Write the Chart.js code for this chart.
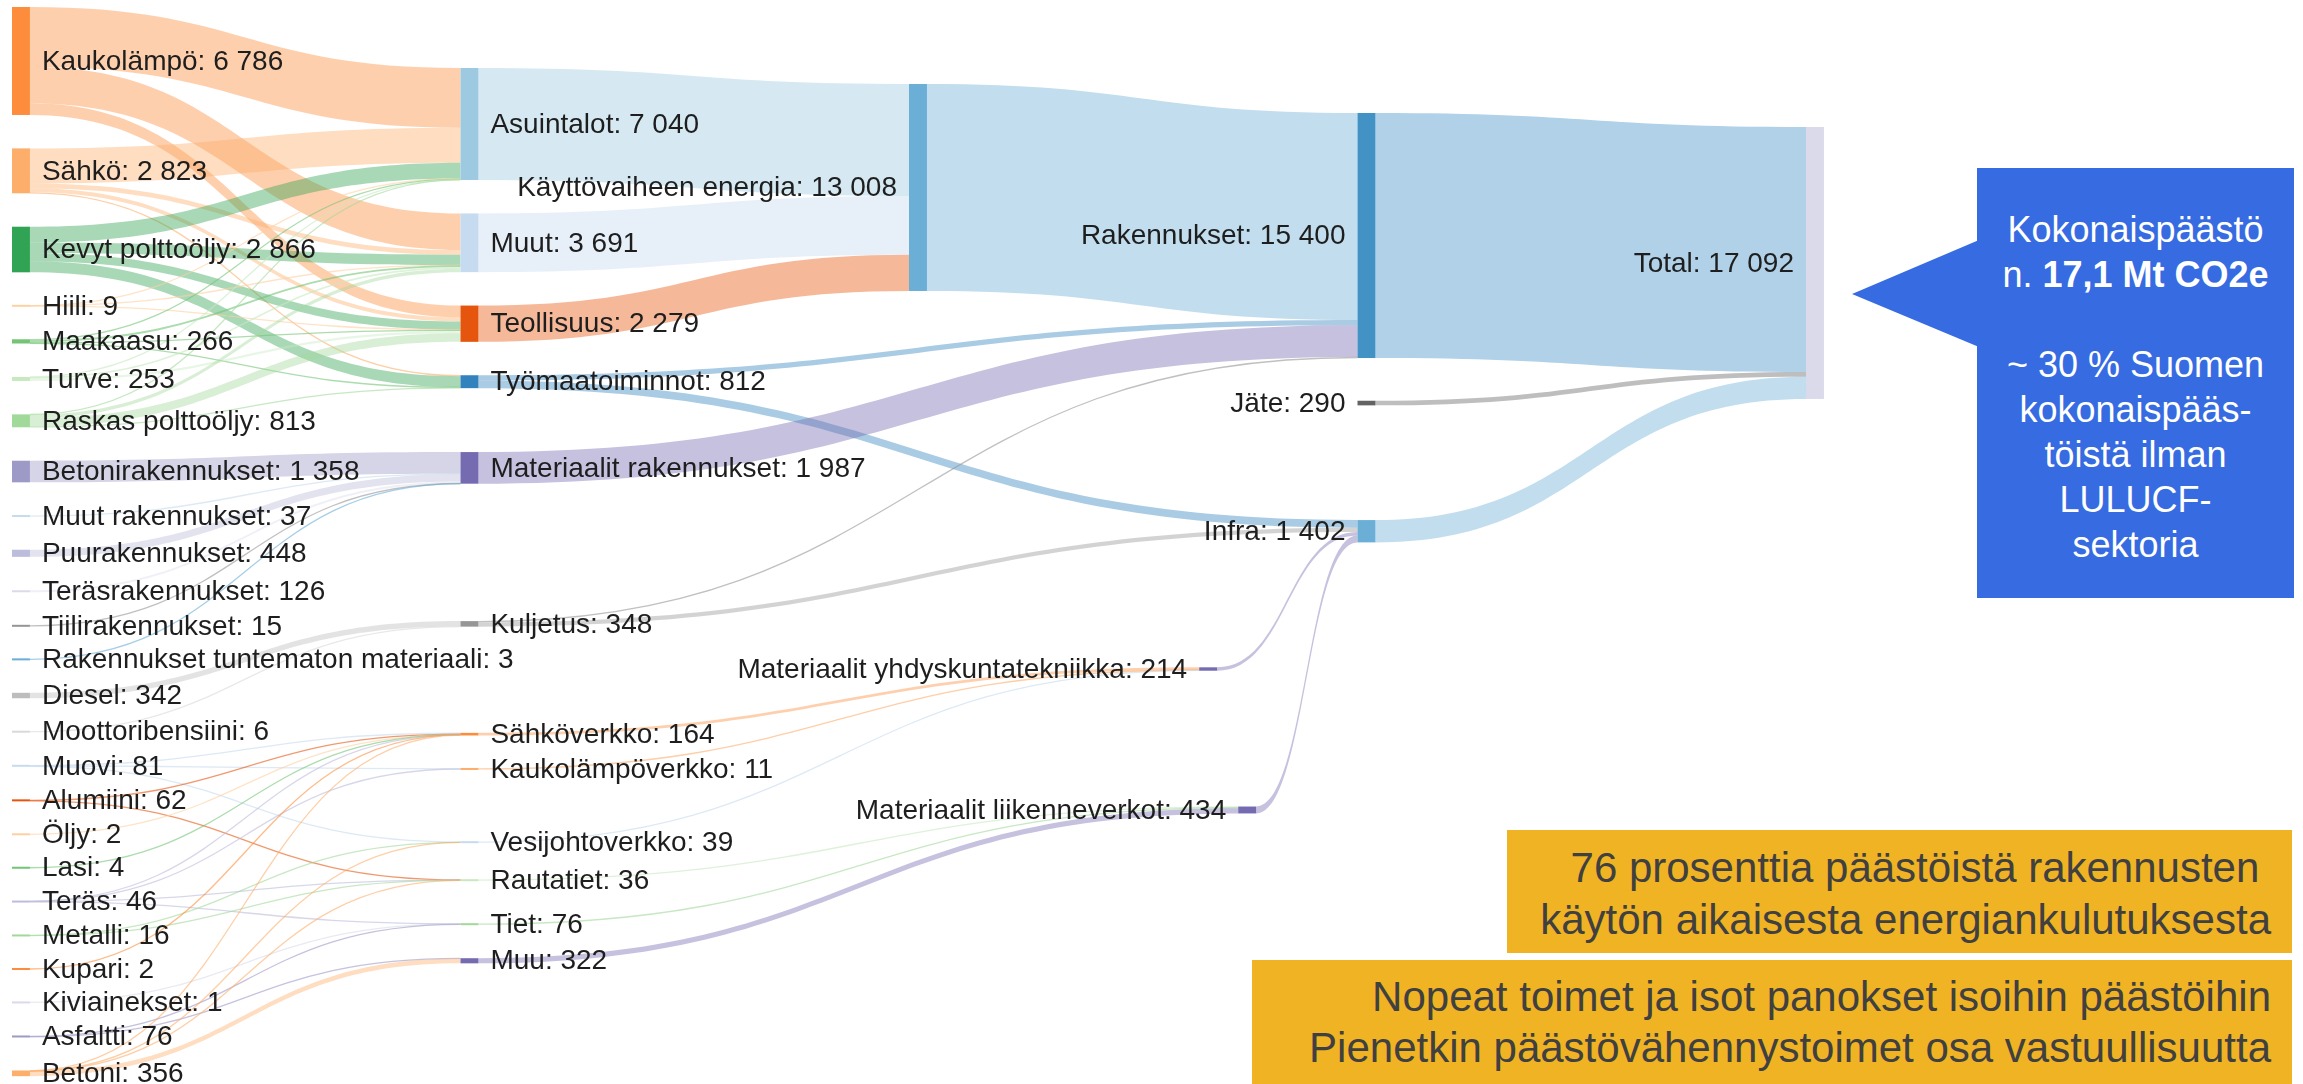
<!DOCTYPE html>
<html>
<head>
<meta charset="utf-8">
<script src="https://cdn.jsdelivr.net/npm/chart.js@4.4.0/dist/chart.umd.min.js"></script>
<style>
  body { margin: 0; background: #fff; }
  #wrap { position: relative; width: 2303px; height: 1084px; overflow: hidden; }
  #sankey { position: absolute; left: 0; top: 0; }
  .txt { position: absolute; font-family: "Liberation Sans", Arial, sans-serif; box-sizing: border-box; }
  #arrow { position: absolute; left: 1852px; top: 240px; width: 127px; height: 107px; background: #366be1;
           clip-path: polygon(0 50.5%, 100% 0, 100% 100%); }
  #callout { left: 1977px; top: 168px; width: 317px; height: 430px; background: #366be1; color: #fff;
             font-size: 36px; line-height: 45px; text-align: center; padding-top: 39px; }
  .note { background: #f0b323; color: #404040; font-size: 42px; line-height: 52px; text-align: right;
          white-space: pre; padding-right: 21px; }
  #note1 { left: 1507px; top: 830px; width: 785px; height: 123px; padding-top: 12px; }
  #note2 { left: 1252px; top: 960px; width: 1040px; height: 124px; padding-top: 11px; line-height: 51px; }
</style>
</head>
<body>
<div id="wrap">
  <canvas id="sankey" width="2303" height="1084"></canvas>
  <div id="arrow"></div>
  <div id="callout" class="txt">Kokonaispäästö<br>n. <b>17,1 Mt CO2e</b><br><br>~ 30 % Suomen<br>kokonaispääs-<br>töistä ilman<br>LULUCF-<br>sektoria</div>
  <div id="note1" class="txt note">76 prosenttia päästöistä rakennusten 
käytön aikaisesta energiankulutuksesta</div>
  <div id="note2" class="txt note">Nopeat toimet ja isot panokset isoihin päästöihin
Pienetkin päästövähennystoimet osa vastuullisuutta</div>
</div>
<script>
// solmut sarakkeittain (kt CO2e)
const col0Names = ["Kaukolämpö", "Sähkö", "Kevyt polttoöljy", "Hiili", "Maakaasu", "Turve", "Raskas polttoöljy",
  "Betonirakennukset", "Muut rakennukset", "Puurakennukset", "Teräsrakennukset", "Tiilirakennukset",
  "Rakennukset tuntematon materiaali", "Diesel", "Moottoribensiini", "Muovi", "Alumiini", "Öljy", "Lasi",
  "Teräs", "Metalli", "Kupari", "Kiviainekset", "Asfaltti", "Betoni"];
const col0Values = [6786, 2823, 2866, 9, 266, 253, 813, 1358, 37, 448, 126, 15, 3, 342, 6, 81, 62, 2, 4, 46, 16, 2, 1, 76, 356];

const col1Names = ["Asuintalot", "Muut", "Teollisuus", "Työmaatoiminnot", "Materiaalit rakennukset", "Kuljetus",
  "Sähköverkko", "Kaukolämpöverkko", "Vesijohtoverkko", "Rautatiet", "Tiet", "Muu"];
const col1Values = [7040, 3691, 2279, 812, 1987, 348, 164, 11, 39, 36, 76, 322];

const col2Names = ["Käyttövaiheen energia", "Materiaalit yhdyskuntatekniikka", "Materiaalit liikenneverkot"];
const col2Values = [13008, 214, 434];

const col3Names = ["Rakennukset", "Jäte", "Infra"];
const col3Values = [15400, 290, 1402];

const col4Names = ["Total"];
const col4Values = [17092];

// virrat [lähde, kohde, arvo]
const energyFlows = [
  ["Kaukolämpö", "Asuintalot", 3750], ["Kaukolämpö", "Muut", 2300], ["Kaukolämpö", "Teollisuus", 736],
  ["Sähkö", "Asuintalot", 2200], ["Sähkö", "Muut", 300], ["Sähkö", "Teollisuus", 263], ["Sähkö", "Työmaatoiminnot", 60],
  ["Kevyt polttoöljy", "Asuintalot", 1000], ["Kevyt polttoöljy", "Muut", 650], ["Kevyt polttoöljy", "Teollisuus", 520], ["Kevyt polttoöljy", "Työmaatoiminnot", 696],
  ["Hiili", "Asuintalot", 5], ["Hiili", "Muut", 2], ["Hiili", "Teollisuus", 2],
  ["Maakaasu", "Asuintalot", 60], ["Maakaasu", "Muut", 120], ["Maakaasu", "Teollisuus", 76], ["Maakaasu", "Työmaatoiminnot", 10],
  ["Turve", "Asuintalot", 10], ["Turve", "Muut", 100], ["Turve", "Teollisuus", 143],
  ["Raskas polttoöljy", "Asuintalot", 15], ["Raskas polttoöljy", "Muut", 219], ["Raskas polttoöljy", "Teollisuus", 533], ["Raskas polttoöljy", "Työmaatoiminnot", 46]
];
const buildingFlows = [
  ["Betonirakennukset", "Materiaalit rakennukset", 1358], ["Muut rakennukset", "Materiaalit rakennukset", 37],
  ["Puurakennukset", "Materiaalit rakennukset", 448], ["Teräsrakennukset", "Materiaalit rakennukset", 126],
  ["Tiilirakennukset", "Materiaalit rakennukset", 15], ["Rakennukset tuntematon materiaali", "Materiaalit rakennukset", 3],
  ["Diesel", "Kuljetus", 342], ["Moottoribensiini", "Kuljetus", 6]
];
const materialFlows = [
  ["Muovi", "Sähköverkko", 50], ["Muovi", "Kaukolämpöverkko", 6], ["Muovi", "Vesijohtoverkko", 25],
  ["Alumiini", "Sähköverkko", 60], ["Alumiini", "Rautatiet", 2],
  ["Öljy", "Sähköverkko", 2], ["Lasi", "Sähköverkko", 4],
  ["Teräs", "Sähköverkko", 10], ["Teräs", "Kaukolämpöverkko", 5], ["Teräs", "Rautatiet", 15], ["Teräs", "Tiet", 16],
  ["Metalli", "Vesijohtoverkko", 10], ["Metalli", "Rautatiet", 6],
  ["Kupari", "Sähköverkko", 2], ["Kiviainekset", "Tiet", 1],
  ["Asfaltti", "Tiet", 59], ["Asfaltti", "Muu", 17],
  ["Betoni", "Sähköverkko", 36], ["Betoni", "Vesijohtoverkko", 4], ["Betoni", "Rautatiet", 13], ["Betoni", "Muu", 303]
];
const stageFlows = [
  ["Asuintalot", "Käyttövaiheen energia", 7040], ["Muut", "Käyttövaiheen energia", 3691], ["Teollisuus", "Käyttövaiheen energia", 2277],
  ["Työmaatoiminnot", "Rakennukset", 337], ["Työmaatoiminnot", "Infra", 475],
  ["Materiaalit rakennukset", "Rakennukset", 1987],
  ["Kuljetus", "Rakennukset", 68], ["Kuljetus", "Infra", 280],
  ["Sähköverkko", "Materiaalit yhdyskuntatekniikka", 164], ["Kaukolämpöverkko", "Materiaalit yhdyskuntatekniikka", 11],
  ["Vesijohtoverkko", "Materiaalit yhdyskuntatekniikka", 39],
  ["Rautatiet", "Materiaalit liikenneverkot", 36], ["Tiet", "Materiaalit liikenneverkot", 76], ["Muu", "Materiaalit liikenneverkot", 322],
  ["Käyttövaiheen energia", "Rakennukset", 13008],
  ["Materiaalit yhdyskuntatekniikka", "Infra", 214], ["Materiaalit liikenneverkot", "Infra", 434],
  ["Rakennukset", "Total", 15400], ["Jäte", "Total", 290], ["Infra", "Total", 1402]
];

// asettelu (arvoyksiköissä, y-akseli)
const Y_MAX = 68130;
const X_MIN = -0.02676, X_MAX = 5.1081;
const NODE_W = 0.04;
const NODE_PAD = 2100;
const columnX = [0, 1, 2, 3, 4];
const columnTop = [440, 4274, 5280, 7102, 7982];
const nodeXShift = { "Materiaalit yhdyskuntatekniikka": 2.647, "Materiaalit liikenneverkot": 2.734 };
const extraGap = {
  "Materiaalit rakennukset": 1917, "Kuljetus": 6537, "Sähköverkko": 4576, "Vesijohtoverkko": 2476,
  "Rautatiet": 251, "Tiet": 610, "Materiaalit yhdyskuntatekniikka": 21553, "Materiaalit liikenneverkot": 6436,
  "Jäte": 585, "Infra": 5110
};

const nodeColors = {
  "Kaukolämpö": "#fd8d3c", "Sähkö": "#fdae6b", "Kevyt polttoöljy": "#31a354", "Hiili": "#fdd0a2", "Maakaasu": "#74c476",
  "Turve": "#c7e9c0", "Raskas polttoöljy": "#a1d99b", "Betonirakennukset": "#9e9ac8", "Muut rakennukset": "#c6dbef",
  "Puurakennukset": "#bcbddc", "Teräsrakennukset": "#dadaeb", "Tiilirakennukset": "#969696",
  "Rakennukset tuntematon materiaali": "#6baed6", "Diesel": "#bdbdbd", "Moottoribensiini": "#d9d9d9",
  "Muovi": "#c6dbef", "Alumiini": "#e6550d", "Öljy": "#fdd0a2", "Lasi": "#74c476", "Teräs": "#bcbddc",
  "Metalli": "#a1d99b", "Kupari": "#fd8d3c", "Kiviainekset": "#dadaeb", "Asfaltti": "#9e9ac8", "Betoni": "#fdae6b",
  "Asuintalot": "#9ecae1", "Muut": "#c6dbef", "Teollisuus": "#e6550d", "Työmaatoiminnot": "#3182bd",
  "Materiaalit rakennukset": "#756bb1", "Kuljetus": "#969696", "Sähköverkko": "#fd8d3c", "Kaukolämpöverkko": "#fdae6b",
  "Vesijohtoverkko": "#c6dbef", "Rautatiet": "#c7e9c0", "Tiet": "#a1d99b", "Muu": "#756bb1",
  "Käyttövaiheen energia": "#6baed6", "Materiaalit yhdyskuntatekniikka": "#756bb1", "Materiaalit liikenneverkot": "#756bb1",
  "Rakennukset": "#4292c6", "Jäte": "#636363", "Infra": "#6baed6", "Total": "#dadaeb"
};

const columns = [[col0Names, col0Values], [col1Names, col1Values], [col2Names, col2Values], [col3Names, col3Values], [col4Names, col4Values]];
const nodes = {};
columns.forEach(function (col, ci) {
  let y = columnTop[ci];
  col[0].forEach(function (name, i) {
    if (i > 0) y += NODE_PAD;
    y += extraGap[name] || 0;
    const v = col[1][i];
    nodes[name] = { name: name, value: v, x: nodeXShift[name] !== undefined ? nodeXShift[name] : columnX[ci], y0: y, y1: y + v, out: [], inn: [] };
    y += v;
  });
});

const links = [];
[energyFlows, buildingFlows, materialFlows, stageFlows].forEach(function (list) {
  list.forEach(function (f) {
    const l = { s: nodes[f[0]], t: nodes[f[1]], v: f[2] };
    links.push(l);
    l.s.out.push(l);
    l.t.inn.push(l);
  });
});
const mid = (n) => (n.y0 + n.y1) / 2;
Object.values(nodes).forEach(function (n) {
  let o = n.y0;
  n.out.sort((a, b) => mid(a.t) - mid(b.t)).forEach(function (l) { l.sy = o; o += l.v; });
  o = n.y0;
  n.inn.sort((a, b) => mid(a.s) - mid(b.s)).forEach(function (l) { l.ty = o; o += l.v; });
});

function rgba(hex, a) {
  const n = parseInt(hex.slice(1), 16);
  return "rgba(" + (n >> 16) + "," + ((n >> 8) & 255) + "," + (n & 255) + "," + a + ")";
}
function fmt(v) {
  return String(v).replace(/\B(?=(\d{3})+(?!\d))/g, " ");
}

const sankeyPlugin = {
  id: "sankeyDraw",
  afterDatasetsDraw(chart) {
    const ctx = chart.ctx, xs = chart.scales.x, ys = chart.scales.y;
    ctx.save();
    // linkit
    links.forEach(function (l) {
      const x0 = xs.getPixelForValue(l.s.x + NODE_W), x1 = xs.getPixelForValue(l.t.x);
      const xm = (x0 + x1) / 2;
      const a0 = ys.getPixelForValue(l.sy), b0 = ys.getPixelForValue(l.sy + l.v);
      const a1 = ys.getPixelForValue(l.ty), b1 = ys.getPixelForValue(l.ty + l.v);
      const col = nodeColors[l.s.name];
      if (b0 - a0 < 2) {
        const c0 = (a0 + b0) / 2, c1 = (a1 + b1) / 2;
        ctx.beginPath();
        ctx.moveTo(x0, c0);
        ctx.bezierCurveTo(xm, c0, xm, c1, x1, c1);
        ctx.lineWidth = Math.max(1.3, b0 - a0);
        ctx.strokeStyle = rgba(col, 0.6);
        ctx.stroke();
      } else {
        ctx.beginPath();
        ctx.moveTo(x0, a0);
        ctx.bezierCurveTo(xm, a0, xm, a1, x1, a1);
        ctx.lineTo(x1, b1);
        ctx.bezierCurveTo(xm, b1, xm, b0, x0, b0);
        ctx.closePath();
        ctx.fillStyle = rgba(col, 0.42);
        ctx.fill();
      }
    });
    // solmut
    Object.values(nodes).forEach(function (n) {
      const x0 = xs.getPixelForValue(n.x), x1 = xs.getPixelForValue(n.x + NODE_W);
      let y0 = ys.getPixelForValue(n.y0), y1 = ys.getPixelForValue(n.y1);
      if (y1 - y0 < 2) { const c = (y0 + y1) / 2; y0 = c - 1; y1 = c + 1; }
      ctx.fillStyle = nodeColors[n.name];
      ctx.fillRect(x0, y0, x1 - x0, y1 - y0);
    });
    // tekstit
    ctx.font = '28px "Liberation Sans", Arial, sans-serif';
    ctx.fillStyle = "#1e1e1e";
    ctx.textBaseline = "middle";
    Object.values(nodes).forEach(function (n) {
      const cy = ys.getPixelForValue(mid(n)) + 1;
      const label = n.name + ": " + fmt(n.value);
      if (n.x >= 2) {
        ctx.textAlign = "right";
        ctx.fillText(label, xs.getPixelForValue(n.x) - 12, cy);
      } else {
        ctx.textAlign = "left";
        ctx.fillText(label, xs.getPixelForValue(n.x + NODE_W) + 12, cy);
      }
    });
    ctx.restore();
  }
};

new Chart(document.getElementById("sankey"), {
  type: "scatter",
  data: {
    datasets: [{
      label: "Päästöt",
      data: Object.values(nodes).map((n) => ({ x: n.x, y: mid(n) })),
      pointRadius: 0
    }]
  },
  options: {
    responsive: false,
    animation: false,
    devicePixelRatio: 1,
    layout: { padding: 0 },
    plugins: { legend: { display: false }, tooltip: { enabled: false } },
    scales: {
      x: { type: "linear", display: false, min: X_MIN, max: X_MAX },
      y: { type: "linear", display: false, min: 0, max: Y_MAX, reverse: true }
    }
  },
  plugins: [sankeyPlugin]
});
</script>
</body>
</html>
